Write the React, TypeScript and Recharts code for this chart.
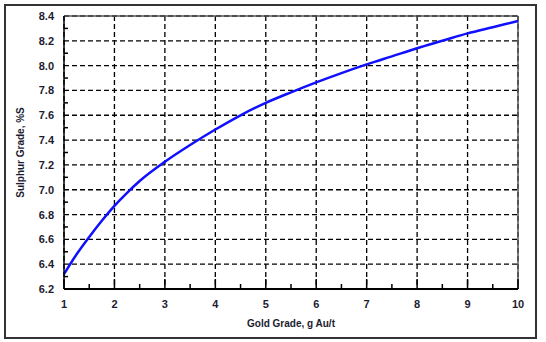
import React from 'react';
import { LineChart, Line, XAxis, YAxis, CartesianGrid, ReferenceLine } from 'recharts';

const goldGrade = [1, 1.25, 1.5, 1.75, 2, 2.25, 2.5, 3, 3.5, 4, 4.5, 5, 5.5, 6, 6.5, 7, 7.5, 8, 8.5, 9, 9.5, 10];
const sulphurGrade = [6.32, 6.48, 6.62, 6.75, 6.87, 6.975, 7.07, 7.225, 7.36, 7.485, 7.6, 7.7, 7.785, 7.865, 7.94, 8.01, 8.075, 8.14, 8.2, 8.26, 8.31, 8.36];

const majorX = [1, 2, 3, 4, 5, 6, 7, 8, 9, 10];
const minorX = [1.5, 2.5, 3.5, 4.5, 5.5, 6.5, 7.5, 8.5, 9.5];
const majorY = [6.2, 6.4, 6.6, 6.8, 7.0, 7.2, 7.4, 7.6, 7.8, 8.0, 8.2, 8.4];
const minorY = [6.3, 6.5, 6.7, 6.9, 7.1, 7.3, 7.5, 7.7, 7.9, 8.1, 8.3];

const data = goldGrade.map((g, i) => ({ gold: g, sulphur: sulphurGrade[i] }));

const isMajor = (list: number[], v: number) => list.some((m) => Math.abs(m - v) < 1e-6);

const font = 'Arial, "Liberation Sans", sans-serif';
const textColor = '#1c1c30';

const YTick = (props: any) => {
  const { x, y, payload } = props;
  const v = payload.value;
  if (isMajor(majorY, v)) {
    return (
      <text x={x} y={y} dy={4} textAnchor="end" fontSize={11} fontWeight="bold" fontFamily={font} fill={textColor}>
        {v.toFixed(1)}
      </text>
    );
  }
  return <line x1={x + 10} x2={x + 14} y1={y} y2={y} stroke="#000" strokeWidth={1.5} />;
};

const XTick = (props: any) => {
  const { x, y, payload } = props;
  const v = payload.value;
  if (isMajor(majorX, v)) {
    return (
      <g>
        <line x1={x} x2={x} y1={y - 10} y2={y - 20} stroke="#000" strokeWidth={1.5} />
        <text x={x} y={y} dy={9} textAnchor="middle" fontSize={11} fontWeight="bold" fontFamily={font} fill={textColor}>
          {v}
        </text>
      </g>
    );
  }
  return <line x1={x} x2={x} y1={y - 10} y2={y - 15} stroke="#000" strokeWidth={1.5} />;
};

const App: React.FC = () => {
  return (
    <div style={{ position: 'absolute', left: 0, top: 0, width: 546, height: 342, background: '#fff' }}>
      <div
        style={{
          position: 'absolute',
          left: 4,
          top: 4,
          width: 529,
          height: 331,
          border: '2px solid #333',
        }}
      />
      <LineChart
        width={546}
        height={342}
        data={data}
        margin={{ top: 16, right: 28, left: 0, bottom: 0 }}
        style={{ position: 'absolute', left: 0, top: 0 }}
      >
        <CartesianGrid
          stroke="#000"
          strokeWidth={1.3}
          strokeDasharray="5 3"
          horizontalValues={majorY}
          verticalValues={majorX}
        />
        <XAxis
          dataKey="gold"
          type="number"
          domain={[1, 10]}
          ticks={[...majorX, ...minorX].sort((a, b) => a - b)}
          interval={0}
          height={53}
          tickSize={0}
          tickMargin={10}
          tickLine={false}
          axisLine={{ stroke: '#000', strokeWidth: 2 }}
          tick={<XTick />}
          label={{
            value: 'Gold Grade, g Au/t',
            position: 'insideBottom',
            offset: 15,
            style: { fontSize: 10, fontWeight: 'bold', fontFamily: font, fill: textColor },
          }}
        />
        <YAxis
          type="number"
          domain={[6.2, 8.4]}
          ticks={[...majorY, ...minorY].sort((a, b) => a - b)}
          interval={0}
          width={64}
          tickSize={0}
          tickMargin={10}
          tickLine={false}
          axisLine={{ stroke: '#000', strokeWidth: 1.5 }}
          tick={<YTick />}
          label={{
            value: 'Sulphur Grade, %S',
            angle: -90,
            position: 'insideLeft',
            offset: 20,
            style: { fontSize: 10, fontWeight: 'bold', fontFamily: font, fill: textColor, textAnchor: 'middle' },
          }}
        />
        <ReferenceLine y={8.4} stroke="#555" strokeWidth={1.5} />
        <ReferenceLine x={10} stroke="#555" strokeWidth={1.5} />
        <Line
          type="monotone"
          dataKey="sulphur"
          stroke="#1010ff"
          strokeWidth={2.5}
          dot={false}
          isAnimationActive={false}
        />
      </LineChart>
    </div>
  );
};

export default App;
